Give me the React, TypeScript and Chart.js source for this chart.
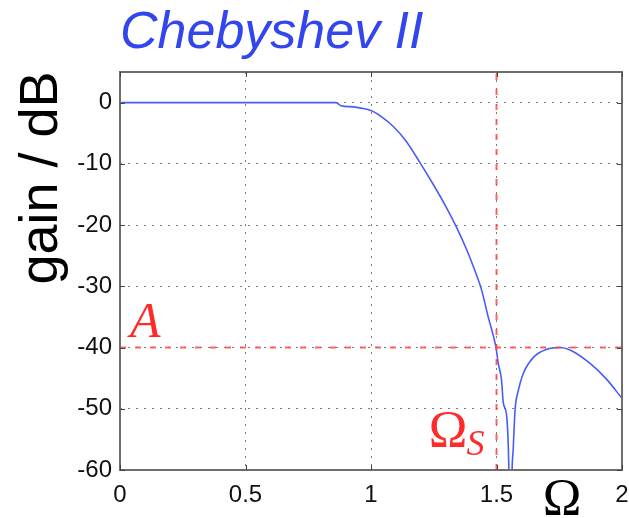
import React, { useEffect, useRef } from "react";
import { Chart, registerables } from "chart.js";

Chart.register(...registerables);

// Normalised frequency Ω and gain in dB
const freq = [
  0, 0.25, 0.5, 0.75, 0.86, 0.88, 0.93, 0.96, 1.0, 1.045, 1.089, 1.14, 1.195,
  1.25, 1.3, 1.34, 1.38, 1.41, 1.44, 1.467, 1.498, 1.507, 1.52, 1.527, 1.54,
  1.547, 1.55, 1.555, 1.561, 1.567, 1.574, 1.587, 1.607, 1.647, 1.7, 1.753,
  1.793, 1.873, 1.939, 2.0,
];
const gainDb = [
  0, 0, 0, 0, 0, -0.5, -0.7, -0.9, -1.3, -2.4, -3.9, -6.3, -9.8, -13.5, -17.1,
  -20.3, -23.9, -27, -30.5, -35, -40, -42.6, -45.3, -49, -51, -56.2, -62, -85,
  -62, -56.2, -50.2, -47, -44.2, -41.6, -40.3, -40.0, -40.4, -42.6, -45.2,
  -48.3,
];

const xTicks = [0, 0.5, 1, 1.5, 2];
const yTicks = [0, -10, -20, -30, -40, -50, -60];
const xRange = [0, 2];
const yRange = [-60, 5];

const stopbandEdge = 1.5; // Ω_S
const stopbandAtten = -40; // A

const titleText = "Chebyshev II";
const yTitleText = "gain / dB";
const xTitleText = "Ω";
const attenLabel = "A";
const edgeLabel = "Ω";
const edgeSub = "S";

const SANS = "'Liberation Sans', Arial, Helvetica, sans-serif";
const SERIF = "'Liberation Serif', 'Times New Roman', serif";

const decorPlugin = {
  id: "decor",
  afterDraw(chart: any) {
    const { ctx, chartArea, scales } = chart;
    const { left, right, top, bottom } = chartArea;
    ctx.save();
    // frame
    ctx.strokeStyle = "#6e6e6e";
    ctx.lineWidth = 2;
    ctx.setLineDash([]);
    ctx.strokeRect(left, top, right - left, bottom - top);
    // inward tick marks
    ctx.lineWidth = 1;
    ctx.strokeStyle = "#444";
    const tl = 5;
    xTicks.forEach((v) => {
      const px = Math.round(scales.x.getPixelForValue(v)) + 0.5;
      ctx.beginPath();
      ctx.moveTo(px, bottom);
      ctx.lineTo(px, bottom - tl);
      ctx.moveTo(px, top);
      ctx.lineTo(px, top + tl);
      ctx.stroke();
    });
    yTicks.forEach((v) => {
      const py = Math.round(scales.y.getPixelForValue(v)) + 0.5;
      ctx.beginPath();
      ctx.moveTo(left, py);
      ctx.lineTo(left + tl, py);
      ctx.moveTo(right, py);
      ctx.lineTo(right - tl, py);
      ctx.stroke();
    });

    // title
    ctx.fillStyle = "#3346ee";
    ctx.font = `italic 52px ${SANS}`;
    ctx.textAlign = "left";
    ctx.textBaseline = "alphabetic";
    ctx.fillText(titleText, 120, 48);

    // y-axis title
    ctx.save();
    ctx.translate(57, 178);
    ctx.rotate(-Math.PI / 2);
    ctx.fillStyle = "#000";
    ctx.font = `54px ${SANS}`;
    ctx.textAlign = "center";
    ctx.fillText(yTitleText, 0, 0);
    ctx.restore();

    // x-axis title
    ctx.fillStyle = "#000";
    ctx.font = `52px ${SERIF}`;
    ctx.textAlign = "center";
    ctx.fillText(xTitleText, 562, 515);

    // A label
    ctx.fillStyle = "#ff2a2a";
    ctx.font = `italic 50px ${SERIF}`;
    ctx.textAlign = "left";
    const ay = scales.y.getPixelForValue(stopbandAtten);
    ctx.fillText(attenLabel, 130, ay - 11);

    // Ω_S label
    const ex = scales.x.getPixelForValue(stopbandEdge);
    ctx.font = `52px ${SERIF}`;
    ctx.textAlign = "right";
    ctx.fillText(edgeLabel, ex - 29, 447);
    ctx.font = `italic 36px ${SERIF}`;
    ctx.textAlign = "left";
    ctx.fillText(edgeSub, ex - 30, 455);
    ctx.restore();
  },
};

export default function App() {
  const ref = useRef<HTMLCanvasElement>(null);
  useEffect(() => {
    if (!ref.current) return;
    const curve = freq.map((x, i) => ({ x, y: gainDb[i] }));
    const hLine = [
      { x: xRange[0], y: stopbandAtten },
      { x: xRange[1], y: stopbandAtten },
    ];
    const vLine = [
      { x: stopbandEdge, y: yRange[0] },
      { x: stopbandEdge, y: yRange[1] },
    ];
    const chart = new Chart(ref.current, {
      type: "line",
      data: {
        datasets: [
          {
            data: hLine,
            borderColor: "rgba(255,70,70,0.85)",
            borderWidth: 2,
            borderDash: [6, 9],
            pointRadius: 0,
          },
          {
            data: vLine,
            borderColor: "rgba(255,70,70,0.85)",
            borderWidth: 2,
            borderDash: [6, 9],
            pointRadius: 0,
          },
          {
            data: curve,
            borderColor: "#4b5cf6",
            borderWidth: 1.6,
            pointRadius: 0,
            cubicInterpolationMode: "monotone",
          },
        ],
      },
      options: {
        responsive: false,
        animation: false,
        layout: { padding: { left: 0, top: 72, right: 7, bottom: 0 } },
        plugins: {
          legend: { display: false },
          tooltip: { enabled: false },
          title: { display: false },
        },
        scales: {
          x: {
            type: "linear",
            min: xRange[0],
            max: xRange[1],
            afterBuildTicks: (s: any) => {
              s.ticks = xTicks.map((v) => ({ value: v }));
            },
            afterFit: (s: any) => {
              s.height = 48;
              s.paddingLeft = 0;
              s.paddingRight = 0;
            },
            ticks: {
              padding: 11,
              color: "#111",
              font: { family: SANS, size: 24 },
              maxRotation: 0,
              autoSkip: false,
              callback: (v: any) => String(v),
            },
            grid: { color: "#7a7a7a", lineWidth: 1, drawTicks: false },
            border: { display: false, dash: [2, 6] },
          },
          y: {
            type: "linear",
            min: yRange[0],
            max: yRange[1],
            afterBuildTicks: (s: any) => {
              s.ticks = yTicks.map((v) => ({ value: v }));
            },
            afterFit: (s: any) => {
              s.width = 120;
              s.paddingTop = 0;
              s.paddingBottom = 0;
            },
            ticks: {
              padding: 8,
              color: "#111",
              font: { family: SANS, size: 24 },
              autoSkip: false,
              callback: (v: any) => String(v),
            },
            grid: { color: "#7a7a7a", lineWidth: 1, drawTicks: false },
            border: { display: false, dash: [2, 6] },
          },
        },
      },
      plugins: [decorPlugin],
    });
    return () => chart.destroy();
  }, []);
  return (
    <div style={{ position: "absolute", left: 0, top: 0, width: 629, height: 518, background: "#fff" }}>
      <canvas ref={ref} width={629} height={518} style={{ display: "block" }} />
    </div>
  );
}
